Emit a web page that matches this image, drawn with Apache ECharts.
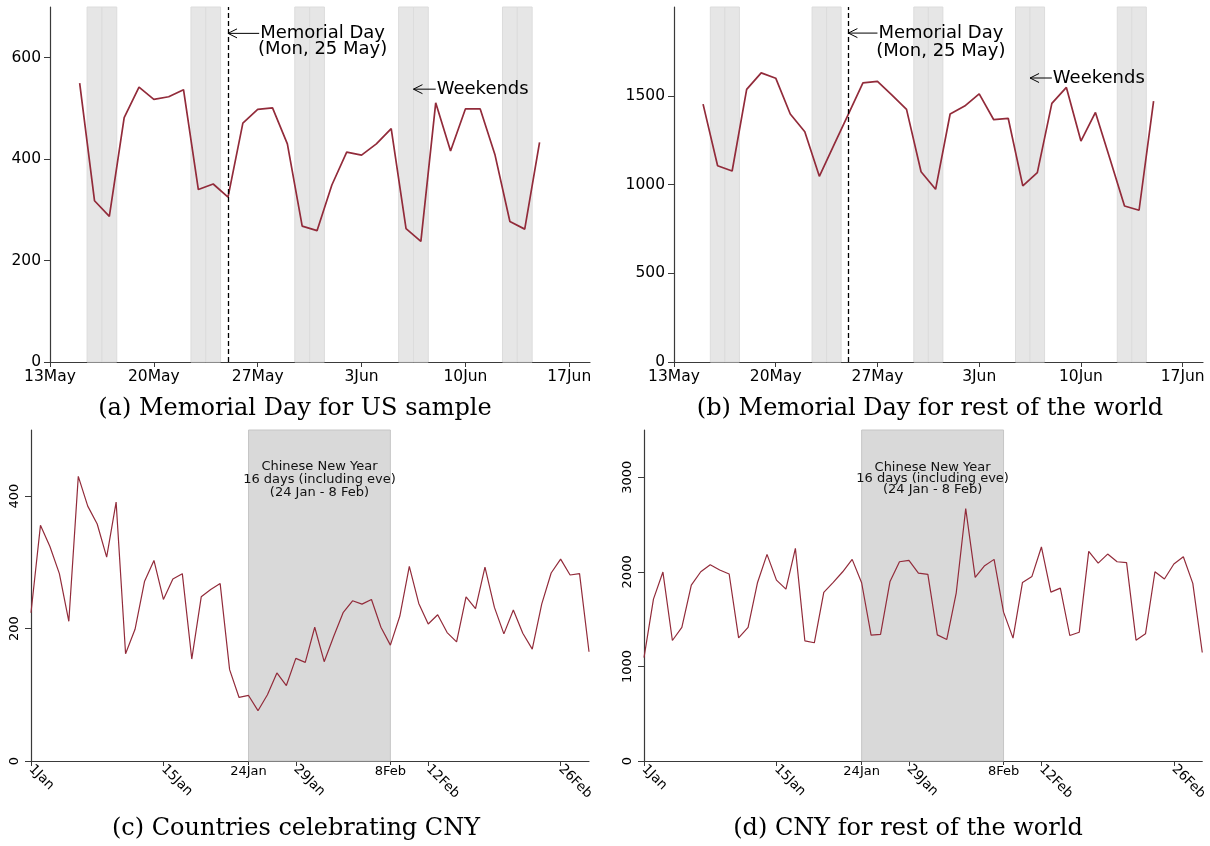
<!DOCTYPE html>
<html>
<head>
<meta charset="utf-8">
<title>Holiday effects on daily counts</title>
<script src="https://cdn.jsdelivr.net/npm/echarts@6/dist/echarts.min.js"></script>
<style>
  html, body { margin: 0; padding: 0; background: #fff; }
  #chart { width: 1210px; height: 846px; }
</style>
</head>
<body>
<div id="chart"></div>
<script>
// ---- Memorial Day window: daily values from 15 May to 15 Jun (offset 0 = 13 May) ----
const mayFirstOffset = 2;
const usMemorial = [550, 318, 287, 482, 542, 518, 523, 537, 340, 351, 325, 471, 498, 501, 430, 268,
  259, 349, 414, 408, 430, 460, 263, 238, 511, 416, 499, 499, 408, 277, 262, 433];
const rowMemorial = [1453, 1106, 1076, 1536, 1629, 1599, 1397, 1297, 1046, 1222, 1397, 1573, 1581, 1504, 1423, 1072,
  973, 1397, 1442, 1511, 1365, 1372, 992, 1067, 1457, 1547, 1245, 1406, 1144, 879, 855, 1470];
const mayTickLabels = ['13May', '20May', '27May', '3Jun', '10Jun', '17Jun'];
const weekendDays = [3, 4, 10, 11, 17, 18, 24, 25, 31, 32];
const memorialDay = 12;

// ---- Chinese New Year window: daily values from 1 Jan to 29 Feb (offset 0 = 1 Jan) ----
const cnyCelebrating = [224, 356, 324, 283, 211, 430, 385, 358, 308, 391, 162, 199, 271, 303, 244, 275,
  283, 154, 248, 259, 268, 138, 96, 99, 76, 100, 133, 114, 155, 149, 202, 150,
  188, 224, 242, 237, 244, 202, 175, 219, 294, 238, 207, 221, 194, 180, 248, 230,
  293, 232, 192, 228, 193, 169, 237, 284, 305, 281, 283, 165];
const cnyRest = [1094, 1712, 1998, 1274, 1412, 1860, 2001, 2075, 2019, 1977, 1302, 1412, 1888, 2185, 1913, 1818,
  2248, 1271, 1250, 1783, 1888, 2001, 2132, 1885, 1331, 1338, 1899, 2107, 2121, 1987, 1973, 1334,
  1285, 1779, 2669, 1941, 2065, 2132, 1574, 1299, 1888, 1952, 2263, 1786, 1828, 1327, 1362, 2217,
  2093, 2188, 2107, 2097, 1278, 1345, 2001, 1924, 2083, 2160, 1878, 1147];
const janTickLabels = ['1Jan', '15Jan', '29Jan', '12Feb', '26Feb'];
const cnyEdgeLabels = ['24Jan', '8Feb'];
const cnyWindow = [23, 38];
const cnyNote = 'Chinese New Year\n16 days (including eve)\n(24 Jan - 8 Feb)';

const panelTitles = ['(a) Memorial Day for US sample', '(b) Memorial Day for rest of the world',
  '(c) Countries celebrating CNY', '(d) CNY for rest of the world'];

// ---- styling ----
const SANS = 'DejaVu Sans';
const SERIF = 'DejaVu Serif';
const LINE_COLOR = '#922b3a';
const AXIS_COLOR = '#3a3a3a';

const measureCtx = document.createElement('canvas').getContext('2d');
function textWidth(str, font) { measureCtx.font = font; return measureCtx.measureText(str).width; }

function seriesPoints(values, firstOffset) {
  return values.map((v, i) => [firstOffset + i, v]);
}

const mayTicks = mayTickLabels.map((_, i) => i * 7);
const janTicks = janTickLabels.map((_, i) => i * 14);

function dateAxis(gridIndex, max, ticks, labels, step, rotate, fontSize, margin) {
  return {
    gridIndex, type: 'value', min: 0, max,
    axisLine: { show: true, onZero: false, lineStyle: { color: AXIS_COLOR, width: 1.2 } },
    axisTick: { show: true, customValues: ticks, length: 5, lineStyle: { color: AXIS_COLOR, width: 1 } },
    axisLabel: {
      customValues: ticks, rotate, margin,
      formatter: v => labels[Math.round(v / step)],
      fontFamily: SANS, fontSize, color: '#000'
    },
    splitLine: { show: false }
  };
}

function edgeAxis(gridIndex) {
  return {
    gridIndex, type: 'value', min: 0, max: 59, position: 'bottom',
    axisLine: { show: false },
    axisTick: { show: true, customValues: cnyWindow, length: 4, lineStyle: { color: AXIS_COLOR } },
    axisLabel: {
      customValues: cnyWindow, rotate: 0, margin: 4,
      formatter: v => cnyEdgeLabels[cnyWindow.indexOf(Math.round(v))],
      fontFamily: SANS, fontSize: 13, color: '#000'
    },
    splitLine: { show: false }
  };
}

function valueAxis(gridIndex, max, ticks, rotate, fontSize, margin) {
  return {
    gridIndex, type: 'value', min: 0, max,
    axisLine: { show: true, lineStyle: { color: AXIS_COLOR, width: 1.2 } },
    axisTick: { show: true, customValues: ticks, length: 6, lineStyle: { color: AXIS_COLOR } },
    axisLabel: {
      customValues: ticks, rotate, margin, formatter: v => String(v),
      fontFamily: SANS, fontSize, color: '#000'
    },
    splitLine: { show: false }
  };
}

// weekend shading: one light box per weekend day
const weekendAreas = weekendDays.map(d => [{ xAxis: d - 0.5 }, { xAxis: d + 0.5 }]);

function weekendSeries(axisIndex) {
  return {
    type: 'line', xAxisIndex: axisIndex, yAxisIndex: axisIndex, data: [], z: 1, silent: true,
    markArea: {
      silent: true,
      itemStyle: { color: '#e6e6e6', borderColor: '#dcdcdc', borderWidth: 1 },
      data: weekendAreas
    },
    markLine: {
      silent: true, symbol: 'none', animation: false,
      label: { show: false },
      lineStyle: { color: '#000', type: [5, 3], width: 1.3 },
      data: [{ xAxis: memorialDay }]
    }
  };
}

function cnySeries(axisIndex, noteOffset, noteLineHeight) {
  return {
    type: 'line', xAxisIndex: axisIndex, yAxisIndex: axisIndex, data: [], z: 1, silent: true,
    markArea: {
      silent: true,
      itemStyle: { color: '#d9d9d9', borderColor: '#c6c6c6', borderWidth: 1 },
      label: {
        show: true, position: 'insideTop', distance: noteOffset,
        formatter: cnyNote, fontFamily: SANS, fontSize: 13, lineHeight: noteLineHeight,
        color: '#111', align: 'center'
      },
      data: [[{ xAxis: cnyWindow[0] }, { xAxis: cnyWindow[1] }]]
    }
  };
}

function lineSeries(axisIndex, values, firstOffset, width) {
  return {
    type: 'line', xAxisIndex: axisIndex, yAxisIndex: axisIndex, z: 3,
    data: seriesPoints(values, firstOffset),
    showSymbol: false, symbol: 'none',
    lineStyle: { color: LINE_COLOR, width },
    itemStyle: { color: LINE_COLOR }
  };
}

// arrow annotations: arrow tip at (tipX, y) in data space, text starting at tailX
function arrowSeries(axisIndex, notes) {
  return {
    type: 'custom', xAxisIndex: axisIndex, yAxisIndex: axisIndex, z: 5, silent: true,
    clip: false,
    data: notes.map(n => [n.tipX, n.y, n.tailX]),
    renderItem: (params, api) => {
      const note = notes[params.dataIndex];
      const tip = api.coord([api.value(0), api.value(1)]);
      const tail = api.coord([api.value(2), api.value(1)]);
      const font = '18px ' + SANS;
      const lines = note.text.split('\n');
      const firstW = textWidth(lines[0], font);
      const children = [
        { type: 'line', shape: { x1: tip[0], y1: tip[1], x2: tail[0], y2: tail[1] },
          style: { stroke: '#000', lineWidth: 1 } },
        { type: 'polyline', shape: { points: [[tip[0] + 9, tip[1] - 4.5], [tip[0], tip[1]], [tip[0] + 9, tip[1] + 4.5]] },
          style: { stroke: '#000', fill: null, lineWidth: 1 } }
      ];
      lines.forEach((ln, k) => {
        children.push({
          type: 'text', x: tail[0] + 1 + firstW / 2, y: tail[1] + k * note.lineHeight,
          style: { text: ln, font, fill: '#000', align: 'center', verticalAlign: 'middle' }
        });
      });
      return { type: 'group', children };
    }
  };
}

const chart = echarts.init(document.getElementById('chart'), null, { renderer: 'canvas' });

chart.setOption({
  animation: false,
  backgroundColor: '#fff',
  title: panelTitles.map((t, i) => ({
    text: t,
    left: [295, 930, 296, 908][i],
    top: [397, 397, 817, 817][i],
    textAlign: 'center',
    padding: 0,
    textStyle: { fontFamily: SERIF, fontSize: 24, fontWeight: 'normal', color: '#000' }
  })),
  grid: [
    { left: 50, top: 7, width: 540, height: 355 },
    { left: 674, top: 7, width: 529, height: 355 },
    { left: 31, top: 430, width: 558, height: 331 },
    { left: 644, top: 430, width: 559, height: 331 }
  ],
  xAxis: [
    dateAxis(0, 36.4, mayTicks, mayTickLabels, 7, 0, 15.5, 7),
    dateAxis(1, 36.4, mayTicks, mayTickLabels, 7, 0, 15.5, 7),
    dateAxis(2, 59, janTicks, janTickLabels, 14, -45, 13.5, 6),
    dateAxis(3, 59, janTicks, janTickLabels, 14, -45, 13.5, 6),
    edgeAxis(2),
    edgeAxis(3)
  ],
  yAxis: [
    valueAxis(0, 700, [0, 200, 400, 600], 0, 15.5, 9),
    valueAxis(1, 2000, [0, 500, 1000, 1500], 0, 15.5, 9),
    valueAxis(2, 500, [0, 200, 400], 90, 13, 10),
    valueAxis(3, 3500, [0, 1000, 2000, 3000], 90, 13, 10)
  ],
  series: [
    weekendSeries(0),
    weekendSeries(1),
    cnySeries(2, 31, 13),
    cnySeries(3, 33, 11),
    lineSeries(0, usMemorial, mayFirstOffset, 1.7),
    lineSeries(1, rowMemorial, mayFirstOffset, 1.7),
    lineSeries(2, cnyCelebrating, 0, 1.2),
    lineSeries(3, cnyRest, 0, 1.2),
    arrowSeries(0, [
      { tipX: memorialDay, tailX: 14.1, y: 648, text: 'Memorial Day\n(Mon, 25 May)', lineHeight: 16 },
      { tipX: 24.5, tailX: 26.0, y: 538, text: 'Weekends', lineHeight: 16 }
    ]),
    arrowSeries(1, [
      { tipX: memorialDay, tailX: 14.0, y: 1853, text: 'Memorial Day\n(Mon, 25 May)', lineHeight: 18 },
      { tipX: 24.5, tailX: 26.0, y: 1600, text: 'Weekends', lineHeight: 18 }
    ])
  ]
});
</script>
</body>
</html>
